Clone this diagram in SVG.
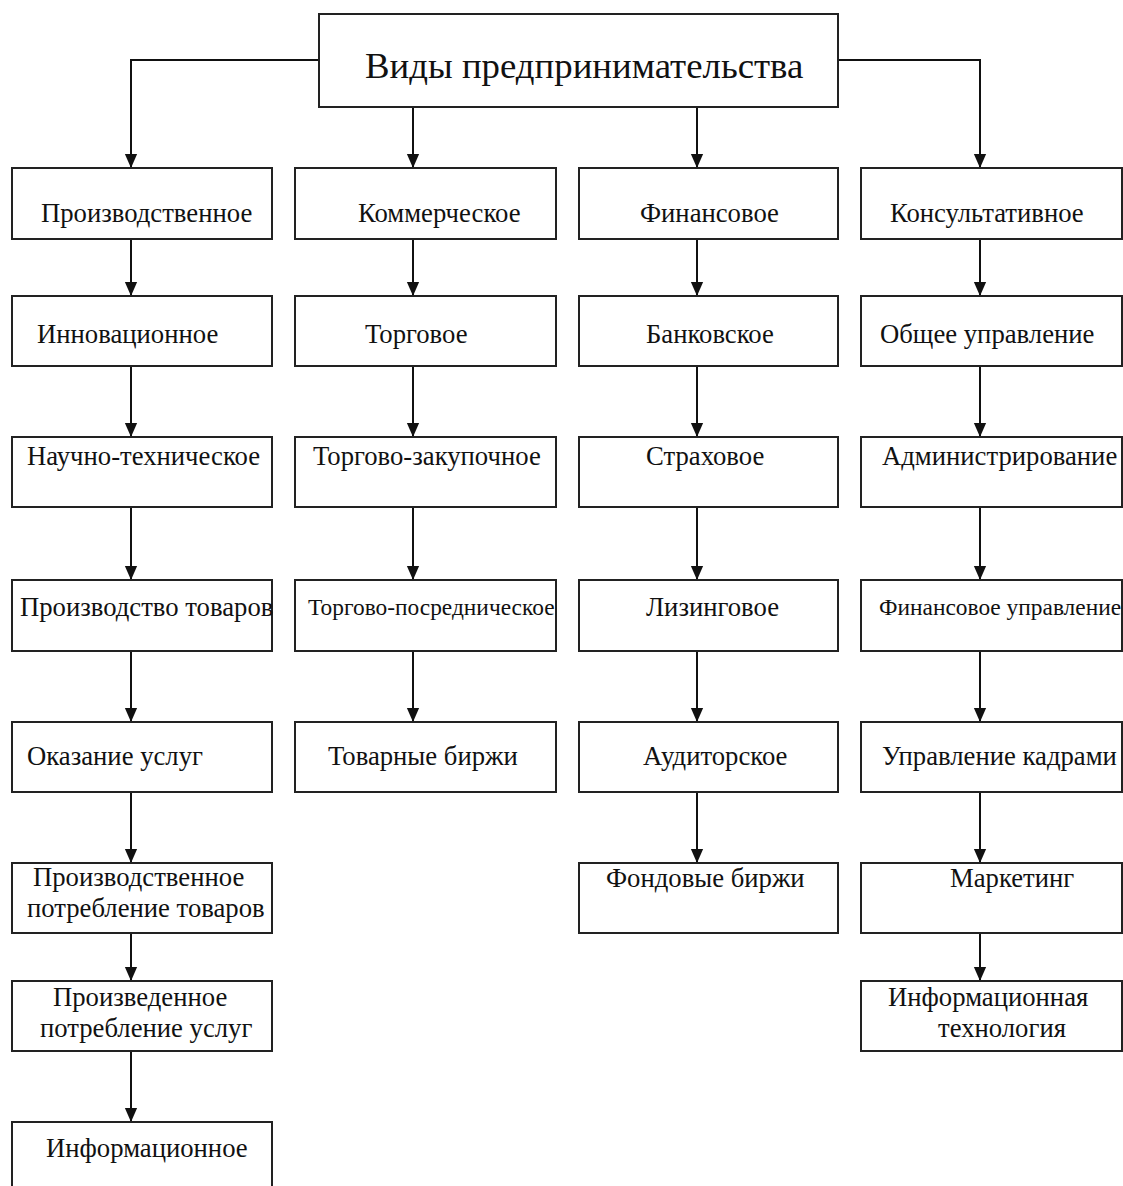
<svg xmlns="http://www.w3.org/2000/svg" width="1123" height="1186" viewBox="0 0 1123 1186">
<style>
.box{fill:#fff;stroke:#222;stroke-width:2}
.t{font-family:"Liberation Serif","Times New Roman",serif;font-size:26.7px;fill:#111}
.s{font-size:23.4px}
.title{font-size:36.8px}
.c{fill:none;stroke:#111;stroke-width:2}
</style>
<defs>
<marker id="ah" markerWidth="14" markerHeight="16" refX="16" refY="7" orient="auto" markerUnits="userSpaceOnUse" viewBox="0 0 16 14">
<path d="M0,0 L16,7 L0,14 Z" fill="#111"/>
</marker>
</defs>
<rect width="1123" height="1186" fill="#fff"/>
<g id="connectors">
<path class="c" d="M319,60 H131 V168" marker-end="url(#ah)"/>
<path class="c" d="M413,107 V168" marker-end="url(#ah)"/>
<path class="c" d="M697,107 V168" marker-end="url(#ah)"/>
<path class="c" d="M838,60 H980 V168" marker-end="url(#ah)"/>
<path class="c" d="M131,239 V296" marker-end="url(#ah)"/>
<path class="c" d="M131,366 V437" marker-end="url(#ah)"/>
<path class="c" d="M131,507 V580" marker-end="url(#ah)"/>
<path class="c" d="M131,651 V722" marker-end="url(#ah)"/>
<path class="c" d="M131,792 V863" marker-end="url(#ah)"/>
<path class="c" d="M131,933 V981" marker-end="url(#ah)"/>
<path class="c" d="M131,1051 V1122" marker-end="url(#ah)"/>
<path class="c" d="M413,239 V296" marker-end="url(#ah)"/>
<path class="c" d="M413,366 V437" marker-end="url(#ah)"/>
<path class="c" d="M413,507 V580" marker-end="url(#ah)"/>
<path class="c" d="M413,651 V722" marker-end="url(#ah)"/>
<path class="c" d="M697,239 V296" marker-end="url(#ah)"/>
<path class="c" d="M697,366 V437" marker-end="url(#ah)"/>
<path class="c" d="M697,507 V580" marker-end="url(#ah)"/>
<path class="c" d="M697,651 V722" marker-end="url(#ah)"/>
<path class="c" d="M697,792 V863" marker-end="url(#ah)"/>
<path class="c" d="M980,239 V296" marker-end="url(#ah)"/>
<path class="c" d="M980,366 V437" marker-end="url(#ah)"/>
<path class="c" d="M980,507 V580" marker-end="url(#ah)"/>
<path class="c" d="M980,651 V722" marker-end="url(#ah)"/>
<path class="c" d="M980,792 V863" marker-end="url(#ah)"/>
<path class="c" d="M980,933 V981" marker-end="url(#ah)"/>
</g>
<g id="root"><rect class="box" x="319" y="14" width="519" height="93"/><text class="t title" x="365" y="78">Виды предпринимательства</text></g>

<g id="c1r1"><rect class="box" x="12" y="168" width="260" height="71"/><text class="t" x="41" y="222">Производственное</text></g>
<g id="c1r2"><rect class="box" x="12" y="296" width="260" height="70"/><text class="t" x="37" y="343">Инновационное</text></g>
<g id="c1r3"><rect class="box" x="12" y="437" width="260" height="70"/><text class="t" x="27" y="465">Научно-техническое</text></g>
<g id="c1r4"><rect class="box" x="12" y="580" width="260" height="71"/><text class="t" x="20" y="616">Производство товаров</text></g>
<g id="c1r5"><rect class="box" x="12" y="722" width="260" height="70"/><text class="t" x="27" y="765">Оказание услуг</text></g>
<g id="c1r6"><rect class="box" x="12" y="863" width="260" height="70"/><text class="t" x="33" y="886">Производственное</text><text class="t" x="27" y="917">потребление товаров</text></g>
<g id="c1r7"><rect class="box" x="12" y="981" width="260" height="70"/><text class="t" x="53" y="1006">Произведенное</text><text class="t" x="40" y="1037">потребление услуг</text></g>
<g id="c1r8"><rect class="box" x="12" y="1122" width="260" height="90"/><text class="t" x="46" y="1157">Информационное</text></g>

<g id="c2r1"><rect class="box" x="295" y="168" width="261" height="71"/><text class="t" x="358" y="222">Коммерческое</text></g>
<g id="c2r2"><rect class="box" x="295" y="296" width="261" height="70"/><text class="t" x="365" y="343">Торговое</text></g>
<g id="c2r3"><rect class="box" x="295" y="437" width="261" height="70"/><text class="t" x="313" y="465">Торгово-закупочное</text></g>
<g id="c2r4"><rect class="box" x="295" y="580" width="261" height="71"/><text class="t s" x="308" y="615">Торгово-посредническое</text></g>
<g id="c2r5"><rect class="box" x="295" y="722" width="261" height="70"/><text class="t" x="328" y="765">Товарные биржи</text></g>

<g id="c3r1"><rect class="box" x="579" y="168" width="259" height="71"/><text class="t" x="640" y="222">Финансовое</text></g>
<g id="c3r2"><rect class="box" x="579" y="296" width="259" height="70"/><text class="t" x="646" y="343">Банковское</text></g>
<g id="c3r3"><rect class="box" x="579" y="437" width="259" height="70"/><text class="t" x="646" y="465">Страховое</text></g>
<g id="c3r4"><rect class="box" x="579" y="580" width="259" height="71"/><text class="t" x="646" y="616">Лизинговое</text></g>
<g id="c3r5"><rect class="box" x="579" y="722" width="259" height="70"/><text class="t" x="643" y="765">Аудиторское</text></g>
<g id="c3r6"><rect class="box" x="579" y="863" width="259" height="70"/><text class="t" x="606" y="887">Фондовые биржи</text></g>

<g id="c4r1"><rect class="box" x="861" y="168" width="261" height="71"/><text class="t" x="890" y="222">Консультативное</text></g>
<g id="c4r2"><rect class="box" x="861" y="296" width="261" height="70"/><text class="t" x="880" y="343">Общее управление</text></g>
<g id="c4r3"><rect class="box" x="861" y="437" width="261" height="70"/><text class="t" x="882" y="465">Администрирование</text></g>
<g id="c4r4"><rect class="box" x="861" y="580" width="261" height="71"/><text class="t s" x="879" y="615">Финансовое управление</text></g>
<g id="c4r5"><rect class="box" x="861" y="722" width="261" height="70"/><text class="t" x="882" y="765">Управление кадрами</text></g>
<g id="c4r6"><rect class="box" x="861" y="863" width="261" height="70"/><text class="t" x="950" y="887">Маркетинг</text></g>
<g id="c4r7"><rect class="box" x="861" y="981" width="261" height="70"/><text class="t" x="888" y="1006">Информационная</text><text class="t" x="938" y="1037">технология</text></g>
</svg>
